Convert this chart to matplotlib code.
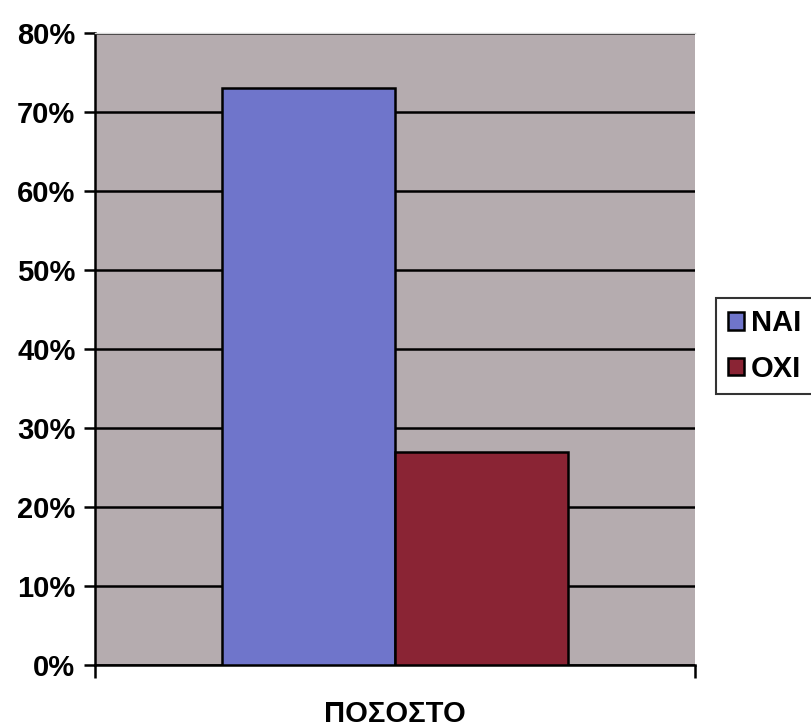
import matplotlib.pyplot as plt
import numpy as np

plt.rcParams['font.family'] = ['Liberation Sans', 'DejaVu Sans']
plt.rcParams['font.weight'] = 'bold'

category = 'ΠΟΣΟΣΤΟ'
series = ['ΝΑΙ', 'ΟΧΙ']
values = [73, 27]
colors = ['#6f75cb', '#8a2434']
ytick_vals = [0, 10, 20, 30, 40, 50, 60, 70, 80]

fig = plt.figure(figsize=(8.11, 7.27), dpi=100)
ax = fig.add_axes([0.117, 0.0853, 0.740, 0.8693])
ax.set_facecolor('#b5acaf')

width = 0.288
offsets = [-width / 2, width / 2]
for name, val, col, off in zip(series, values, colors, offsets):
    ax.bar(off, val, width=width, color=col, edgecolor='black', linewidth=1.8,
           label=name, zorder=3)

ax.set_xlim(-0.5, 0.5)
ax.set_ylim(0, 80)
ax.set_yticks(ytick_vals)
ax.set_yticklabels([f'{v}%' for v in ytick_vals])
ax.yaxis.grid(True, color='black', linewidth=1.8, zorder=1)
ax.set_axisbelow(True)

# x axis: category label in the middle, tick marks at the edges
ax.set_xticks([0])
ax.set_xticklabels([category])
ax.set_xticks([-0.5, 0.5], minor=True)
ax.tick_params(axis='x', which='major', length=0, pad=25, labelsize=21)
ax.tick_params(axis='x', which='minor', length=9, width=1.8, color='black')
ax.tick_params(axis='y', length=8, width=1.8, color='black', labelsize=21, pad=6)

for side in ['left', 'bottom']:
    ax.spines[side].set_linewidth(1.8)
    ax.spines[side].set_color('black')
ax.spines['top'].set_color('#d8d8d8')
ax.spines['top'].set_linewidth(1.0)
ax.spines['right'].set_visible(False)

leg = fig.legend(loc='center left', bbox_to_anchor=(0.883, 0.524), fontsize=21,
                 frameon=True, fancybox=False, edgecolor='black', handlelength=0.55,
                 handleheight=0.55, handletextpad=0.25, borderpad=0.4,
                 labelspacing=0.6, borderaxespad=0)
leg.get_frame().set_linewidth(1.5)

fig.savefig('out.png', dpi=100)
